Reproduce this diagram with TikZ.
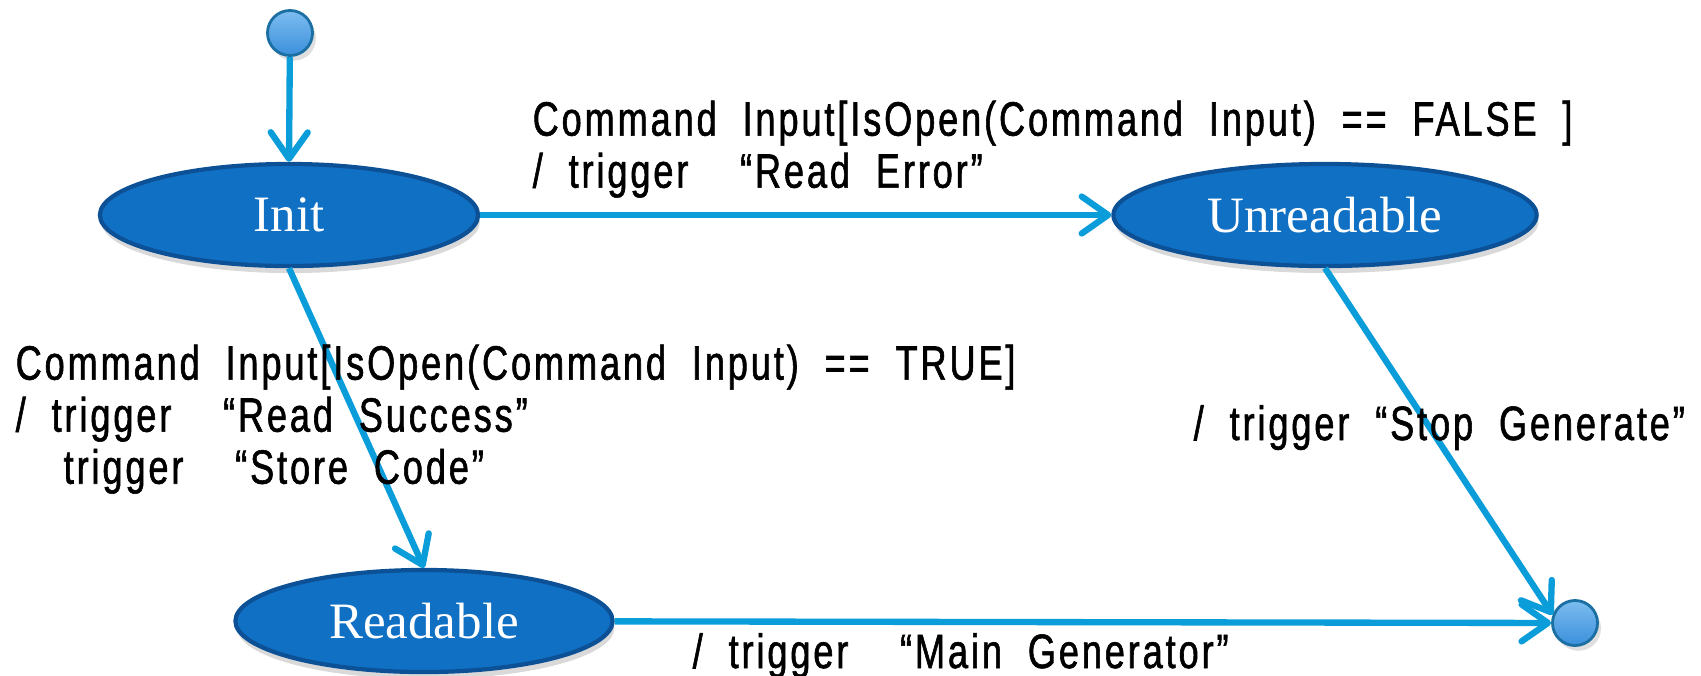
\documentclass[tikz,border=0pt]{standalone}
\usepackage{fontspec}
\usetikzlibrary{shapes.geometric, arrows.meta, shadows}

\newfontfamily\statefont{Liberation Serif}
\newfontfamily\guardfont[FakeStretch=0.75, FakeBold=1.2, LetterSpace=6, WordSpace=2]{Liberation Sans}

\definecolor{statefill}{HTML}{1070C4}
\definecolor{stateline}{HTML}{0C5096}
\definecolor{flowline}{HTML}{0A9DD9}
\definecolor{dotlight}{HTML}{7DBDF0}
\definecolor{dotdark}{HTML}{3A8FDB}
\definecolor{dotline}{HTML}{1B6FA3}

\begin{document}
\begin{tikzpicture}[
        x=0.01cm, y=-0.01cm,
        state/.style={ellipse, draw=stateline, line width=1.2pt, fill=statefill, text=white, inner sep=0pt, minimum height=1.02cm, font=\statefont\fontsize{14.5}{16}\selectfont, drop shadow={opacity=0.3, shadow xshift=0.5pt, shadow yshift=-2pt}},
        dot/.style={circle, draw=dotline, line width=0.8pt, top color=dotlight, bottom color=dotdark, minimum size=0.45cm, inner sep=0pt, drop shadow={opacity=0.25, shadow xshift=1pt, shadow yshift=-1.5pt}},
        flow/.style={draw=flowline, line width=1.8pt, -{Straight Barb[length=7.5pt, width=10.5pt, round]}},
        guard/.style={inner sep=0pt, align=left, font=\guardfont\fontsize{13.7}{14.8}\selectfont}
    ]
    \useasboundingbox (0,0) rectangle (1701,675);

    % states
    \node[dot] (start) at (290,33) {};
    \node[state, minimum width=3.78cm] (init) at (289,215) {Init};
    \node[state, minimum width=4.23cm] (unread) at (1325,215) {Unreadable};
    \node[state, minimum width=3.77cm] (read) at (424,621) {Readable};
    \node[dot] (stop) at (1575,623) {};

    % transitions
    \draw[flow] (start) -- (init.north);
    \draw[flow] (init) -- (unread);
    \draw[flow] (init.south) -- (read.north);
    \draw[flow] (unread.south) -- (stop.160);
    \draw[flow] (read) -- (stop);

    % guards and actions
    \node[guard, anchor=north west] (falsetxt) at (532,100) {Command Input[IsOpen(Command Input) == FALSE ]\\/ trigger\ \ “Read Error”};
    \node[guard, anchor=north west] (truetxt) at (15,344) {Command Input[IsOpen(Command Input) == TRUE]\\/ trigger\ \ “Read Success”\\\hspace*{0.48cm}trigger\ \ “Store Code”};
    \node[guard, anchor=base west] (stoptxt) at (1193,440) {/ trigger “Stop Generate”};
    \node[guard, anchor=base west] (maintxt) at (692,668) {/ trigger\ \ “Main Generator”};
\end{tikzpicture}
\end{document}
